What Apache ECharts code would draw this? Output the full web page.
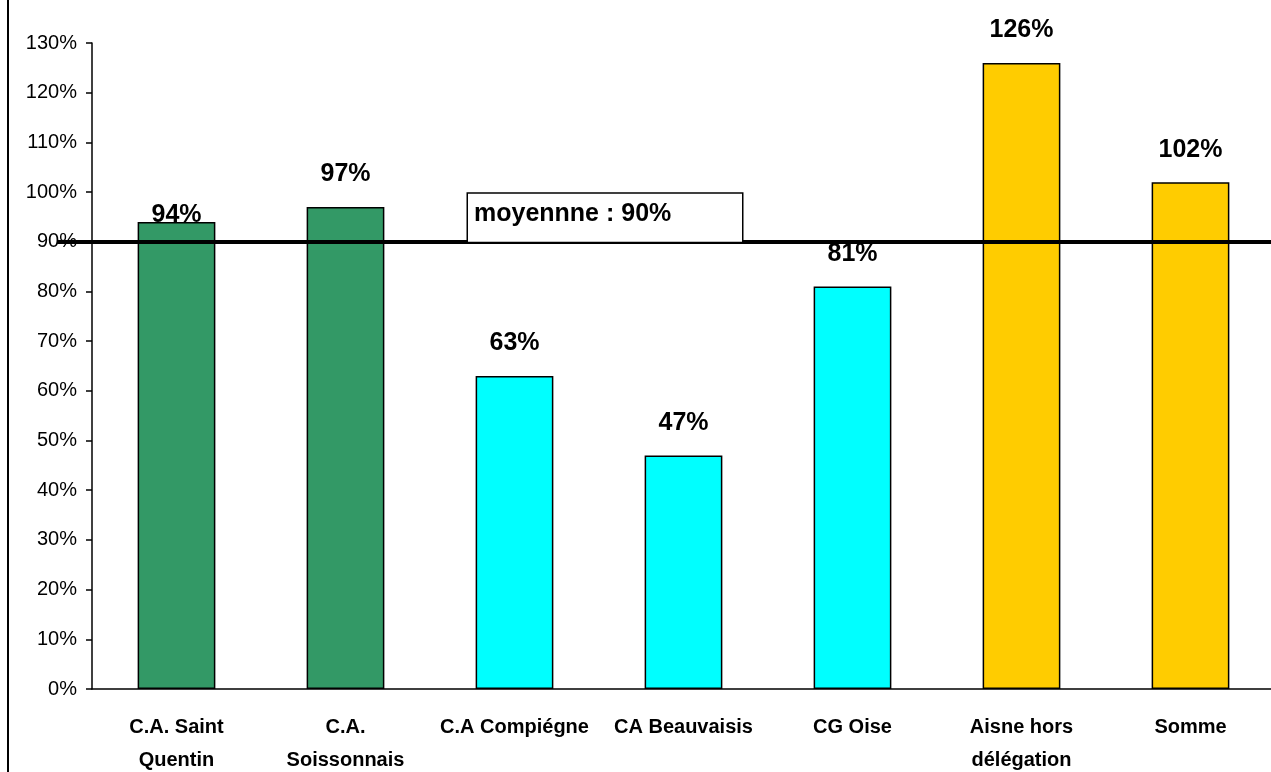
<!DOCTYPE html>
<html>
<head>
<meta charset="utf-8">
<script src="https://cdn.jsdelivr.net/npm/echarts@6/dist/echarts.min.js"></script>
<style>
  html, body { margin: 0; padding: 0; background: #fff; }
  #chart { width: 1271px; height: 772px; }
</style>
</head>
<body>
<div id="chart"></div>
<script>
const categories = ['C.A. Saint\nQuentin', 'C.A.\nSoissonnais', 'C.A Compiégne', 'CA Beauvaisis', 'CG Oise', 'Aisne hors\ndélégation', 'Somme']
const values = [94, 97, 63, 47, 81, 126, 102]
const barColors = ['#339966', '#339966', '#00FFFF', '#00FFFF', '#00FFFF', '#FFCC00', '#FFCC00']
const average = 90
const averageText = 'moyennne : 90%'

const font = '"Liberation Sans", Arial, sans-serif'

const myChart = echarts.init(document.getElementById('chart'))

const option = {
  backgroundColor: '#fff',
  animation: false,
  grid: {
    left: 92,
    top: 43,
    bottom: 83,
    width: 1183,
    outerBoundsMode: 'none',
    containLabel: false
  },
  xAxis: {
    type: 'category',
    data: categories,
    axisLine: { lineStyle: { color: '#000', width: 1.5 } },
    axisTick: { length: 10, lineStyle: { color: '#000', width: 1.5 } },
    axisLabel: {
      interval: 0,
      hideOverlap: false,
      margin: 22,
      color: '#000',
      fontFamily: font,
      fontWeight: 'bold',
      fontSize: 20,
      lineHeight: 33
    }
  },
  yAxis: {
    type: 'value',
    min: 0,
    max: 130,
    interval: 10,
    splitLine: { show: false },
    axisLine: { show: true, lineStyle: { color: '#000', width: 1.5 } },
    axisTick: { show: true, length: 6, lineStyle: { color: '#000', width: 1.5 } },
    axisLabel: {
      margin: 15,
      color: '#000',
      fontFamily: font,
      fontSize: 20,
      formatter: '{value}%'
    }
  },
  graphic: [
    {
      type: 'line',
      shape: { x1: 8, y1: 0, x2: 8, y2: 772 },
      style: { stroke: '#000', lineWidth: 2 }
    }
  ],
  series: [
    {
      type: 'bar',
      barWidth: '46%',
      data: values.map((v, i) => ({
        value: v,
        itemStyle: { color: barColors[i] },
        label: i === 0 ? { distance: -6 } : {}
      })),
      itemStyle: { borderColor: '#000', borderWidth: 1.5 },
      label: {
        show: true,
        position: 'top',
        distance: 20,
        color: '#000',
        fontFamily: font,
        fontWeight: 'bold',
        fontSize: 25,
        formatter: '{c}%'
      },
      markLine: {
        silent: true,
        symbol: 'none',
        lineStyle: { color: '#000', width: 4, type: 'solid' },
        label: {
          show: true,
          position: 'insideStartTop',
          distance: [411, 0],
          formatter: averageText,
          color: '#000',
          fontFamily: font,
          fontWeight: 'bold',
          fontSize: 25,
          backgroundColor: '#fff',
          borderColor: '#000',
          borderWidth: 1.5,
          width: 262,
          padding: [8, 6, 15, 6]
        },
        data: [[{ x: 57, yAxis: average }, { x: 1271, yAxis: average }]]
      }
    }
  ]
}

myChart.setOption(option)

window.onresize = () => {
  myChart.resize()
}
</script>
</body>
</html>
